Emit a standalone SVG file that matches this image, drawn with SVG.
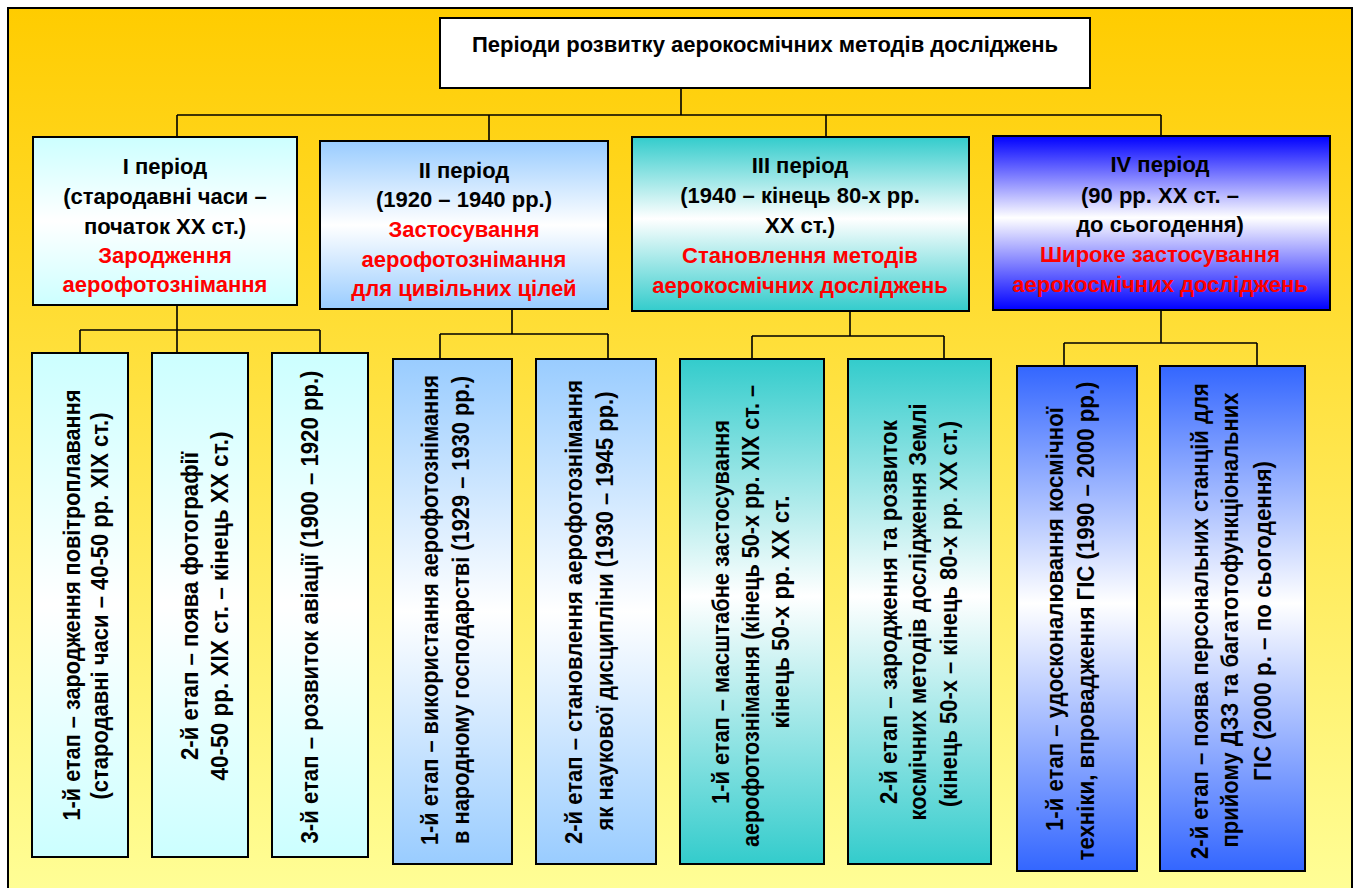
<svg xmlns="http://www.w3.org/2000/svg" width="1359" height="888" viewBox="0 0 1359 888">
<defs>
<linearGradient id="bg" x1="0" y1="0" x2="0" y2="1"><stop offset="0" stop-color="#FFCC00"/><stop offset="1" stop-color="#FFFF99"/></linearGradient>
<linearGradient id="gCyan" x1="0" y1="0" x2="0" y2="1"><stop offset="0" stop-color="#CCFFFF"/><stop offset="0.5" stop-color="#FFFFFF"/><stop offset="1" stop-color="#CCFFFF"/></linearGradient>
<linearGradient id="gSky" x1="0" y1="0" x2="0" y2="1"><stop offset="0" stop-color="#99CCFF"/><stop offset="0.5" stop-color="#FFFFFF"/><stop offset="1" stop-color="#99CCFF"/></linearGradient>
<linearGradient id="gTeal" x1="0" y1="0" x2="0" y2="1"><stop offset="0" stop-color="#33CCCC"/><stop offset="0.47" stop-color="#FFFFFF"/><stop offset="1" stop-color="#33CCCC"/></linearGradient>
<linearGradient id="gBlue" x1="0" y1="0" x2="0" y2="1"><stop offset="0" stop-color="#0000FF"/><stop offset="0.47" stop-color="#FFFFFF"/><stop offset="1" stop-color="#0000FF"/></linearGradient>
<linearGradient id="gBlue2" x1="0" y1="0" x2="0" y2="1"><stop offset="0" stop-color="#3366FF"/><stop offset="0.47" stop-color="#FFFFFF"/><stop offset="1" stop-color="#3366FF"/></linearGradient>
</defs>
<style>
.box{stroke:#000;stroke-width:2}
.t{font-family:"Liberation Sans",Arial,sans-serif;font-weight:bold;font-size:22px;text-anchor:middle;fill:#000}
.r{fill:#FF0000}
.v{font-family:"Liberation Sans Narrow","Liberation Sans",Arial,sans-serif;font-weight:bold;font-size:24px;text-anchor:middle;fill:#000}
.c{fill:none;stroke:#000;stroke-width:1.6}
</style>
<rect x="0" y="0" width="1359" height="888" fill="#FFFFFF"/>
<rect x="8" y="8" width="1344" height="900" fill="url(#bg)" stroke="#000" stroke-width="2"/>

<g id="connectors" class="c">
<path d="M681 88V115M177 115H1161M177 115V137M489 115V141M826 115V137M1161 115V136"/>
<path d="M177 305V353M80 330H320M80 330V353M320 330V353"/>
<path d="M512 309V334M440 334H608M440 334V359M608 334V359"/>
<path d="M850 311V336M752 336H944M752 336V359M944 336V359"/>
<path d="M1161 310V343M1064 343H1257M1064 343V366M1257 343V366"/>
</g>

<g id="title">
<rect class="box" x="440" y="18" width="650" height="70" fill="#FFFFFF"/>
<text class="t" x="765" y="52">Періоди розвитку аерокосмічних методів досліджень</text>
</g>

<g id="period1">
<rect class="box" x="33" y="137" width="264" height="168" fill="url(#gCyan)"/>
<text class="t" x="165" y="174">І період</text>
<text class="t" x="165" y="204">(стародавні часи –</text>
<text class="t" x="165" y="234">початок ХХ ст.)</text>
<text class="t r" x="165" y="263">Зародження</text>
<text class="t r" x="165" y="292">аерофотознімання</text>
</g>
<g id="period2">
<rect class="box" x="320" y="141" width="288" height="168" fill="url(#gSky)"/>
<text class="t" x="464" y="178">ІІ період</text>
<text class="t" x="464" y="207">(1920 – 1940 рр.)</text>
<text class="t r" x="464" y="237">Застосування</text>
<text class="t r" x="464" y="267">аерофотознімання</text>
<text class="t r" x="464" y="296">для цивільних цілей</text>
</g>
<g id="period3">
<rect class="box" x="632" y="137" width="337" height="174" fill="url(#gTeal)"/>
<text class="t" x="800" y="173">ІІІ період</text>
<text class="t" x="800" y="203">(1940 – кінець 80-х рр.</text>
<text class="t" x="800" y="233">ХХ ст.)</text>
<text class="t r" x="800" y="263">Становлення методів</text>
<text class="t r" x="800" y="293">аерокосмічних досліджень</text>
</g>
<g id="period4">
<rect class="box" x="993" y="136" width="337" height="174" fill="url(#gBlue)"/>
<text class="t" x="1160" y="172">ІV період</text>
<text class="t" x="1160" y="203">(90 рр. ХХ ст. –</text>
<text class="t" x="1160" y="232">до сьогодення)</text>
<text class="t r" x="1160" y="262">Широке застосування</text>
<text class="t r" x="1160" y="292">аерокосмічних досліджень</text>
</g>

<g id="stage1-1">
<rect class="box" x="32" y="353" width="96" height="504" fill="url(#gCyan)"/>
<text class="v" transform="translate(80,605) rotate(-90)" x="0" y="0" textLength="431" lengthAdjust="spacingAndGlyphs">1-й етап – зародження повітроплавання</text>
<text class="v" transform="translate(108,606) rotate(-90)" x="0" y="0" textLength="387" lengthAdjust="spacingAndGlyphs">(стародавні часи – 40-50 рр. XIX ст.)</text>
</g>
<g id="stage1-2">
<rect class="box" x="152" y="353" width="96" height="504" fill="url(#gCyan)"/>
<text class="v" transform="translate(198,606) rotate(-90)" x="0" y="0" textLength="308" lengthAdjust="spacingAndGlyphs">2-й етап – поява фотографії</text>
<text class="v" transform="translate(228,606) rotate(-90)" x="0" y="0" textLength="349" lengthAdjust="spacingAndGlyphs">40-50 рр. XIX ст. – кінець XX ст.)</text>
</g>
<g id="stage1-3">
<rect class="box" x="272" y="353" width="96" height="504" fill="url(#gCyan)"/>
<text class="v" transform="translate(318,607) rotate(-90)" x="0" y="0" textLength="473" lengthAdjust="spacingAndGlyphs">3-й етап – розвиток авіації  (1900 – 1920 рр.)</text>
</g>

<g id="stage2-1">
<rect class="box" x="393" y="359" width="119" height="505" fill="url(#gSky)"/>
<text class="v" transform="translate(438,610) rotate(-90)" x="0" y="0" textLength="470" lengthAdjust="spacingAndGlyphs">1-й етап – використання аерофотознімання</text>
<text class="v" transform="translate(469,610) rotate(-90)" x="0" y="0" textLength="468" lengthAdjust="spacingAndGlyphs">в народному господарстві (1929 – 1930 рр.)</text>
</g>
<g id="stage2-2">
<rect class="box" x="536" y="359" width="120" height="505" fill="url(#gSky)"/>
<text class="v" transform="translate(582,612) rotate(-90)" x="0" y="0" textLength="464" lengthAdjust="spacingAndGlyphs">2-й етап – становлення аерофотознімання</text>
<text class="v" transform="translate(613,611) rotate(-90)" x="0" y="0" textLength="439" lengthAdjust="spacingAndGlyphs">як наукової дисципліни (1930 – 1945 рр.)</text>
</g>

<g id="stage3-1">
<rect class="box" x="680" y="359" width="144" height="505" fill="url(#gTeal)"/>
<text class="v" transform="translate(729,612) rotate(-90)" x="0" y="0" textLength="384" lengthAdjust="spacingAndGlyphs">1-й етап – масштабне застосування</text>
<text class="v" transform="translate(759,616) rotate(-90)" x="0" y="0" textLength="462" lengthAdjust="spacingAndGlyphs">аерофотознімання (кінець 50-х рр. XIX ст. –</text>
<text class="v" transform="translate(789,612) rotate(-90)" x="0" y="0" textLength="233" lengthAdjust="spacingAndGlyphs">кінець 50-х рр.  XX ст.</text>
</g>
<g id="stage3-2">
<rect class="box" x="848" y="359" width="143" height="505" fill="url(#gTeal)"/>
<text class="v" transform="translate(897,612) rotate(-90)" x="0" y="0" textLength="384" lengthAdjust="spacingAndGlyphs">2-й етап – зародження  та розвиток</text>
<text class="v" transform="translate(926,612) rotate(-90)" x="0" y="0" textLength="417" lengthAdjust="spacingAndGlyphs">космічних методів дослідження Землі</text>
<text class="v" transform="translate(957,614) rotate(-90)" x="0" y="0" textLength="386" lengthAdjust="spacingAndGlyphs">(кінець 50-х – кінець 80-х рр. XX ст.)</text>
</g>

<g id="stage4-1">
<rect class="box" x="1017" y="366" width="120" height="505" fill="url(#gBlue2)"/>
<text class="v" transform="translate(1063,619) rotate(-90)" x="0" y="0" textLength="424" lengthAdjust="spacingAndGlyphs">1-й етап – удосконалювання космічної</text>
<text class="v" transform="translate(1094,621) rotate(-90)" x="0" y="0" textLength="479" lengthAdjust="spacingAndGlyphs">техніки, впровадження ГІС (1990 –  2000 рр.)</text>
</g>
<g id="stage4-2">
<rect class="box" x="1160" y="366" width="145" height="505" fill="url(#gBlue2)"/>
<text class="v" transform="translate(1208,621) rotate(-90)" x="0" y="0" textLength="476" lengthAdjust="spacingAndGlyphs">2-й етап – поява персональних станцій для</text>
<text class="v" transform="translate(1238,620) rotate(-90)" x="0" y="0" textLength="455" lengthAdjust="spacingAndGlyphs">прийому ДЗЗ та багатотофункціональних</text>
<text class="v" transform="translate(1271,621) rotate(-90)" x="0" y="0" textLength="320" lengthAdjust="spacingAndGlyphs">ГІС (2000  р. – по сьогодення)</text>
</g>
</svg>
